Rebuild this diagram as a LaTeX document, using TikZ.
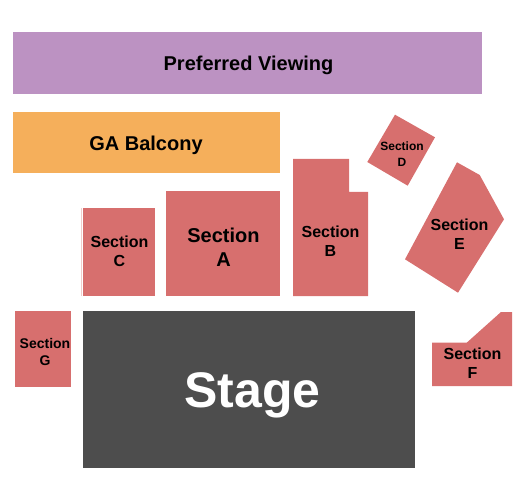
\documentclass[tikz,border=0pt]{standalone}
\usepackage{fontspec}
\setmainfont{Liberation Sans}
\definecolor{secred}{HTML}{D76F6E}
\definecolor{gaorange}{HTML}{F5AF5B}
\definecolor{prefpurple}{HTML}{BC92C2}
\definecolor{stagegrey}{HTML}{4D4D4D}
\tikzset{
  seat/.style={fill=secred,draw=none},
  lbl/.style 2 args={font=\bfseries\fontsize{#1}{#2}\selectfont,align=center,text=black,inner sep=0pt},
}
\begin{document}
\begin{tikzpicture}[x=1pt,y=-1pt]
\useasboundingbox (0,0) rectangle (525,500);
\fill[prefpurple] (13,32) rectangle (482,94);
\fill[gaorange] (13,112) rectangle (280,173);
\fill[stagegrey] (83,311) rectangle (415,468);
\draw[secred!35,line width=0.7pt] (81.5,208) -- (81.5,296);
\fill[seat] (83,208) rectangle (155,296);
\fill[seat] (166,191) rectangle (280,296);
\fill[seat] (293,159) -- (349,159) -- (349,192) -- (368,192) -- (368,296) -- (293,296) -- cycle;
\fill[seat] (395,114.7) -- (435,137.3) -- (407.7,185.7) -- (367.3,162) -- cycle;
\fill[seat] (457,162.3) -- (479.7,175) -- (504,219.3) -- (458,292.7) -- (405,259.3) -- cycle;
\fill[seat] (432,342.7) -- (466.7,342.7) -- (501,312) -- (512,312) -- (512,386) -- (432,386) -- cycle;
\fill[seat] (15,311) rectangle (71,387);
\node[lbl={20}{24}] (pref) at (248.5,65) {Preferred Viewing};
\node[lbl={20}{24}] (ga) at (146,145.5) {GA Balcony};
\node[lbl={20}{24}] (a) at (223.5,247) {Section\\A};
\node[lbl={16}{19}] (b) at (330.5,241.3) {Section\\B};
\node[lbl={16}{19}] (c) at (119.5,251) {Section\\C};
\node[lbl={12}{16}] (d) at (402,154.5) {Section\\D};
\node[lbl={16}{19}] (e) at (459.5,234) {Section\\E};
\node[lbl={16}{19}] (f) at (472.5,363) {Section\\F};
\node[lbl={14}{17}] (g) at (45,352) {Section\\G};
\node[font=\bfseries\fontsize{50}{60}\selectfont,text=white,inner sep=0pt] (stage) at (252.5,395) {Stage};
\end{tikzpicture}
\end{document}
